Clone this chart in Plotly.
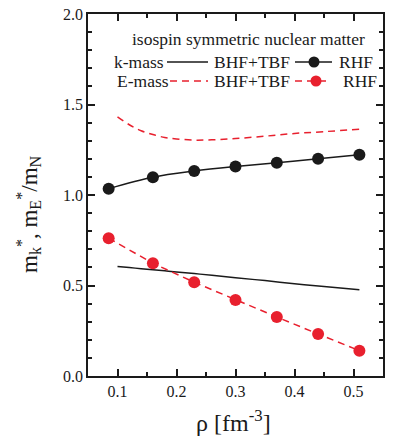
import plotly.graph_objects as go

# RHF points (dots)
rho_rhf = [0.085, 0.16, 0.23, 0.30, 0.37, 0.44, 0.51]
k_mass_rhf = [1.035, 1.098, 1.132, 1.157, 1.178, 1.200, 1.222]
e_mass_rhf = [0.761, 0.623, 0.518, 0.420, 0.326, 0.232, 0.140]

# BHF+TBF curves
rho_bhf = [0.10, 0.12, 0.14, 0.16, 0.18, 0.20, 0.23, 0.26, 0.30, 0.35, 0.40, 0.45, 0.51]
k_mass_bhf = [0.605, 0.599, 0.593, 0.587, 0.581, 0.575, 0.566, 0.556, 0.543, 0.527, 0.510, 0.494, 0.476]
e_mass_bhf = [1.432, 1.388, 1.355, 1.334, 1.318, 1.310, 1.303, 1.305, 1.312, 1.325, 1.340, 1.350, 1.364]

RED = "#e8202e"
BLACK = "#1a1a1a"
FONT = "Liberation Serif"

fig = go.Figure()
fig.add_trace(go.Scatter(x=rho_bhf, y=k_mass_bhf, mode="lines",
                         line=dict(color=BLACK, width=1.5), line_shape="spline"))
fig.add_trace(go.Scatter(x=rho_bhf, y=e_mass_bhf, mode="lines",
                         line=dict(color=RED, width=1.5, dash="7px,5px"), line_shape="spline"))
fig.add_trace(go.Scatter(x=rho_rhf, y=k_mass_rhf, mode="lines+markers",
                         line=dict(color=BLACK, width=1.5), line_shape="spline",
                         marker=dict(color=BLACK, size=12)))
fig.add_trace(go.Scatter(x=rho_rhf, y=e_mass_rhf, mode="lines+markers",
                         line=dict(color=RED, width=1.5, dash="7px,5px"),
                         marker=dict(color=RED, size=12)))

# hand-made legend + titles, positions in page pixels -> paper coords
def px(x):
    return (x - 88) / 295

def py(y):
    return (376 - y) / 362

ann = []
def txt(s, x, y, anchor="left", size=17.5, angle=0):
    ann.append(dict(text=s, x=px(x), y=py(y), xref="paper", yref="paper",
                    xanchor=anchor, yanchor="middle", showarrow=False, textangle=angle,
                    font=dict(family=FONT, size=size, color=BLACK)))

txt("isospin symmetric nuclear matter", 248, 39, "center")
txt("k-mass", 112, 62)
txt("BHF+TBF", 212, 62)
txt("RHF", 337, 62)
txt("E-mass", 115, 81)
txt("BHF+TBF", 212, 81)
txt("RHF", 341, 81)

# axis titles
txt("ρ [fm<sup>-3</sup>]", 233, 421, "center", size=24)
txt("m<sub>k</sub><sup>*</sup>, m<sub>E</sub><sup>*</sup>/m<sub>N</sub>", 29, 214, "center", size=23, angle=-90)

shapes = []
def seg(x0, x1, y, color, dash="solid"):
    shapes.append(dict(type="line", xref="paper", yref="paper",
                       x0=px(x0), x1=px(x1), y0=py(y), y1=py(y),
                       line=dict(color=color, width=1.5, dash=dash)))

def dot(x, y, color):
    r = 5.5
    shapes.append(dict(type="circle", xref="paper", yref="paper",
                       x0=px(x - r), x1=px(x + r), y0=py(y + r), y1=py(y - r),
                       fillcolor=color, line=dict(color=color, width=0)))

seg(167, 208, 62, BLACK)
seg(295, 332, 62, BLACK)
dot(314, 62, BLACK)
seg(170, 208, 81, RED, "7px,5px")
seg(295, 329, 81, RED, "7px,5px")
dot(316, 81, RED)

axis_common = dict(
    showline=True, linecolor=BLACK, linewidth=1.5, mirror="allticks",
    ticks="inside", ticklen=7, tickwidth=1.5, tickcolor=BLACK,
    showgrid=False, zeroline=False, automargin=False,
    tickfont=dict(family=FONT, size=16, color=BLACK),
)

fig.update_layout(
    width=409, height=436,
    margin=dict(l=88, r=26, t=14, b=60),
    plot_bgcolor="white", paper_bgcolor="white",
    showlegend=False,
    font=dict(family=FONT),
    annotations=ann, shapes=shapes,
    xaxis=dict(range=[0.05, 0.55], dtick=0.1, tick0=0.1, tickformat=".1f",
               minor=dict(ticks="inside", dtick=0.05, ticklen=4, tickcolor=BLACK, tickwidth=1.5),
               **axis_common),
    yaxis=dict(range=[0, 2.0], dtick=0.5, tickformat=".1f",
               minor=dict(ticks="inside", dtick=0.1, ticklen=4, tickcolor=BLACK, tickwidth=1.5),
               **axis_common),
)

# drop the page's default 8px body margin so the figure sits at (0, 0)
fig.write_html("out.html", config={"displayModeBar": False},
               post_script="document.body.style.margin='0';")
